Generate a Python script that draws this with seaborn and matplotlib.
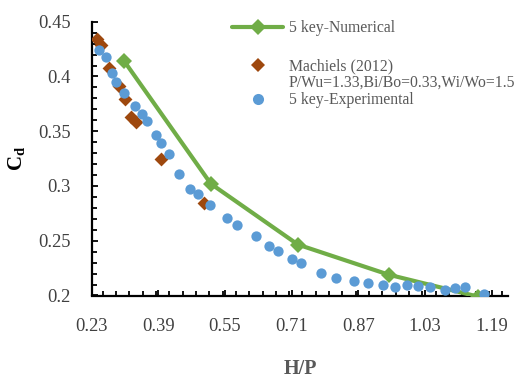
import numpy as np
import pandas as pd
import matplotlib
matplotlib.use("Agg")
import matplotlib.pyplot as plt
from matplotlib.lines import Line2D
from matplotlib.ticker import FixedLocator, MultipleLocator
import seaborn as sns

# ---- data ----
num_hp = [0.308, 0.516, 0.725, 0.943, 1.157]
num_cd = [0.414, 0.302, 0.2465, 0.219, 0.199]

mach_hp = [0.2427, 0.2523, 0.2715, 0.2955, 0.3099, 0.3243, 0.3363, 0.3963, 0.4995]
mach_cd = [0.4342, 0.4288, 0.4078, 0.3913, 0.3795, 0.3630, 0.3584, 0.3247, 0.2845]

exp_hp = [0.2475, 0.2636, 0.2780, 0.2876, 0.3075, 0.3339, 0.3500, 0.3620, 0.3843,
          0.3956, 0.4162, 0.4402, 0.4659, 0.4858, 0.5139, 0.5554, 0.5780, 0.6243,
          0.6562, 0.6778, 0.7100, 0.7316, 0.7815, 0.8163, 0.8595, 0.8938, 0.9290,
          0.9590, 0.9860, 1.0138, 1.0419, 1.0790, 1.1018, 1.1258, 1.1714]
exp_cd = [0.4242, 0.4181, 0.4032, 0.3953, 0.3849, 0.3731, 0.3658, 0.3596, 0.3466,
          0.3393, 0.3292, 0.3110, 0.2970, 0.2927, 0.2826, 0.2705, 0.2644, 0.2543,
          0.2452, 0.2409, 0.2331, 0.2294, 0.2205, 0.2160, 0.2132, 0.2110, 0.2096,
          0.2082, 0.2096, 0.2090, 0.2082, 0.2050, 0.2068, 0.2082, 0.2018]

x_ticks = [0.23, 0.39, 0.55, 0.71, 0.87, 1.03, 1.19]
x_tick_labels = ["0.23", "0.39", "0.55", "0.71", "0.87", "1.03", "1.19"]
y_ticks = [0.2, 0.25, 0.3, 0.35, 0.4, 0.45]
y_tick_labels = ["0.2", "0.25", "0.3", "0.35", "0.4", "0.45"]

lab_num = "5 key-Numerical"
lab_mach = "Machiels (2012)"
lab_mach2 = "P/Wu=1.33,Bi/Bo=0.33,Wi/Wo=1.5"
lab_exp = "5 key-Experimental"

GREEN = "#70AD47"
BROWN = "#9E480E"
BLUE = "#5B9BD5"

sns.set_style("white")
plt.rcParams["font.family"] = ["Liberation Serif", "DejaVu Serif"]
plt.rcParams["mathtext.fontset"] = "custom"
plt.rcParams["mathtext.rm"] = "Liberation Serif"
plt.rcParams["mathtext.bf"] = "Liberation Serif:bold"
plt.rcParams["mathtext.it"] = "Liberation Serif:italic"

W, H = 525, 379
fig = plt.figure(figsize=(W / 100, H / 100), dpi=100)
x0, x1, y0, y1 = 91.7, 508.3, 21.7, 295.5
ax = fig.add_axes([x0 / W, 1 - y1 / H, (x1 - x0) / W, (y1 - y0) / H])

df_num = pd.DataFrame({"hp": num_hp, "cd": num_cd})
df_mach = pd.DataFrame({"hp": mach_hp, "cd": mach_cd})
df_exp = pd.DataFrame({"hp": exp_hp, "cd": exp_cd})

sns.lineplot(data=df_num, x="hp", y="cd", ax=ax, color=GREEN, lw=3,
             marker="D", markersize=8.5, markeredgewidth=0, sort=False, zorder=3)
sns.scatterplot(data=df_mach, x="hp", y="cd", ax=ax, color=BROWN, marker="D",
                s=50, linewidth=0, zorder=4)
sns.scatterplot(data=df_exp, x="hp", y="cd", ax=ax, color=BLUE, marker="o",
                s=55, linewidth=0, zorder=5)

ax.set_xlim(0.23, 1.23)
ax.set_ylim(0.2, 0.45)
ax.xaxis.set_major_locator(FixedLocator(x_ticks))
ax.set_xticklabels(x_tick_labels)
ax.xaxis.set_minor_locator(MultipleLocator(0.032))
ax.yaxis.set_major_locator(FixedLocator(y_ticks))
ax.set_yticklabels(y_tick_labels)
ax.yaxis.set_minor_locator(MultipleLocator(0.01))

for s in ["top", "right"]:
    ax.spines[s].set_visible(False)
for s in ["left", "bottom"]:
    ax.spines[s].set_color("black")
    ax.spines[s].set_linewidth(1.6)

ax.tick_params(axis="both", which="both", direction="in", color="black",
               width=1.3, labelsize=13.3, labelcolor="#404040",
               bottom=True, left=True)
ax.tick_params(axis="both", which="major", length=4.5)
ax.tick_params(axis="both", which="minor", length=3.5)
ax.tick_params(axis="x", which="major", pad=16)
ax.tick_params(axis="y", which="major", pad=15)

ax.set_xlabel("H/P", fontsize=14.5, fontweight="bold", color="#595959", va="center")
ax.xaxis.set_label_coords(0.5, (y1 - 368.5) / (y1 - y0))
ax.set_ylabel(r"$\mathbf{C_d}$", fontsize=15, color="black", va="center")
ax.yaxis.set_label_coords((16 - x0) / (x1 - x0), 0.5)

# legends
fs = 11.3
h1 = [Line2D([], [], color=GREEN, lw=3, marker="D", markersize=8, markeredgewidth=0)]
leg1 = ax.legend(h1, [lab_num], loc="upper left",
                 bbox_to_anchor=(231.7 / W, 1 - 20 / H), bbox_transform=fig.transFigure,
                 frameon=False, fontsize=fs, borderpad=0, borderaxespad=0,
                 handlelength=3.3, handletextpad=0.35, labelcolor="#595959")
ax.add_artist(leg1)
h2 = [Line2D([], [], color=BROWN, lw=0, marker="D", markersize=7, markeredgewidth=0),
      Line2D([], [], color="none", lw=0),
      Line2D([], [], color=BLUE, lw=0, marker="o", markersize=8, markeredgewidth=0)]
leg2 = ax.legend(h2, [lab_mach, lab_mach2, lab_exp], loc="upper left",
                 bbox_to_anchor=(231.7 / W, 1 - 58 / H), bbox_transform=fig.transFigure,
                 frameon=False, fontsize=fs, borderpad=0, borderaxespad=0,
                 handlelength=3.3, handletextpad=0.35, labelspacing=0.07,
                 labelcolor="#595959")

fig.savefig("out.png", dpi=100)
